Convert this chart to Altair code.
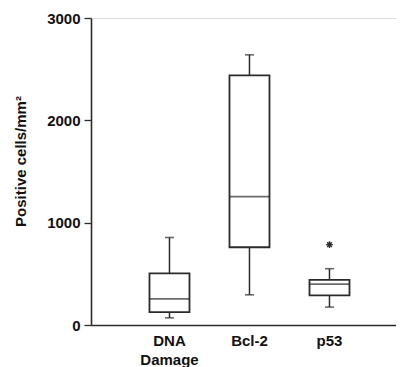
import altair as alt
import pandas as pd

categories = ["DNA Damage", "Bcl-2", "p53"]
mins = [70, 295, 175]
q1s = [125, 760, 290]
medians = [255, 1255, 400]
q3s = [505, 2440, 440]
maxs = [855, 2640, 550]

outlier_cats = ["p53"]
outlier_vals = [785]

y_ticks = [0, 1000, 2000, 3000]
y_title = "Positive cells/mm²"

df = pd.DataFrame({"cat": categories, "lo": mins, "q1": q1s, "med": medians,
                   "q3": q3s, "hi": maxs})
out = pd.DataFrame({"cat": outlier_cats, "v": outlier_vals})

FONT = "Liberation Sans"
INK = "#2b2b2b"

xenc = alt.X("cat:N", sort=categories, title=None,
             scale=alt.Scale(paddingInner=0, paddingOuter=0.40625, align=0.592),
             axis=alt.Axis(labelAngle=0, ticks=False, labelPadding=8,
                           labelExpr="split(datum.label, ' ')",
                           labelLineHeight=19, labelFont=FONT, labelFontSize=15,
                           labelFontWeight="bold", labelColor="#111",
                           domainColor=INK, domainWidth=1.6))
yscale = alt.Scale(domain=[0, 3000], nice=False)
yaxis = alt.Axis(values=y_ticks, format="d", grid=False, tickSize=7, tickColor=INK,
                 tickWidth=1.3, labelPadding=4, labelFont=FONT, labelFontSize=15,
                 labelFontWeight="bold", labelColor="#111", domainColor=INK,
                 domainWidth=1.6,
                 title=y_title, titleFont=FONT, titleFontSize=15, titleFontWeight="bold",
                 titleColor="#111", titleX=-63, titleY=143)

base = alt.Chart(df)

whisk_lo = base.mark_rule(color=INK, strokeWidth=1.5).encode(
    x=xenc, y=alt.Y("lo:Q", scale=yscale, axis=yaxis), y2="q1:Q")
whisk_hi = base.mark_rule(color=INK, strokeWidth=1.5).encode(
    x=xenc, y=alt.Y("q3:Q", scale=yscale), y2="hi:Q")
cap_lo = base.mark_tick(color=INK, size=9, thickness=1.6, orient="horizontal").encode(
    x=xenc, y=alt.Y("lo:Q", scale=yscale))
cap_hi = base.mark_tick(color=INK, size=9, thickness=1.6, orient="horizontal").encode(
    x=xenc, y=alt.Y("hi:Q", scale=yscale))
box = base.mark_bar(fill="white", stroke=INK, strokeWidth=1.8, size=40).encode(
    x=xenc, y=alt.Y("q1:Q", scale=yscale), y2="q3:Q")
med = base.mark_tick(color=INK, size=40, thickness=1.8, orient="horizontal").encode(
    x=xenc, y=alt.Y("med:Q", scale=yscale))
star = alt.Chart(out).mark_point(
    shape="M-1,0L1,0M0,-1L0,1M-0.7,-0.7L0.7,0.7M-0.7,0.7L0.7,-0.7",
    size=45, stroke=INK, strokeWidth=1.4, filled=False, opacity=1).encode(
    x=xenc, y=alt.Y("v:Q", scale=yscale))

chart = alt.layer(whisk_lo, whisk_hi, cap_lo, cap_hi, box, med, star).properties(
    width=305, height=307,
    autosize=alt.AutoSizeParams(type="none"),
    padding={"left": 83, "top": 10, "right": 0, "bottom": 44},
).configure_view(stroke="#555", strokeWidth=1.3).configure(background="white")

chart.save("out.html", embed_options={"renderer": "svg", "actions": False})
